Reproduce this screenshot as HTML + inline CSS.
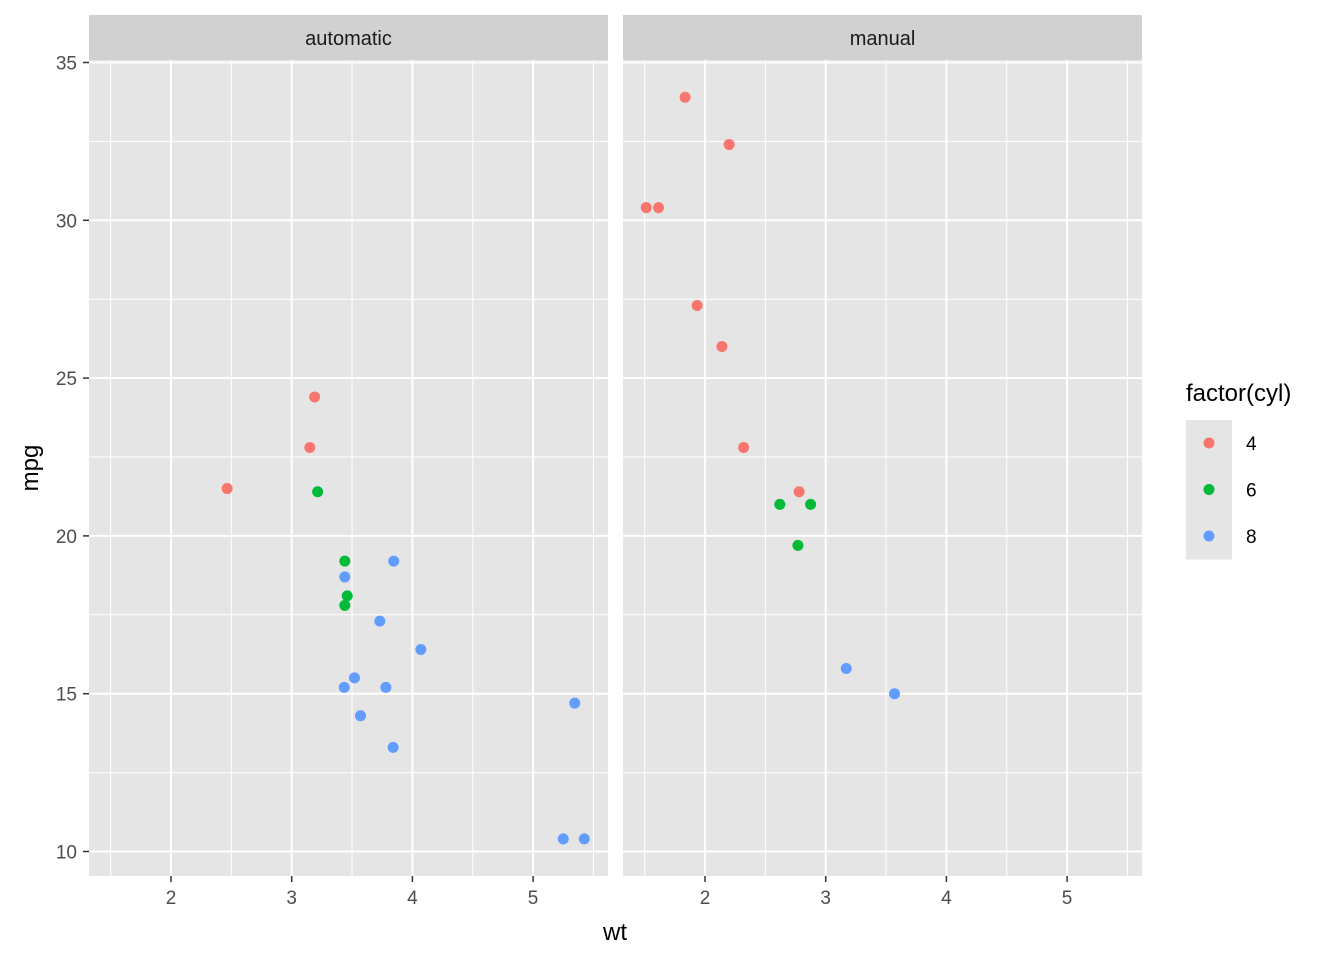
<!DOCTYPE html>
<html><head><meta charset="utf-8"><style>
body{margin:0;background:#fff}
svg{display:block;font-family:"Liberation Sans",Arial,sans-serif}
</style></head><body>
<svg id="c" width="1344" height="960"></svg>
<script>
const panels=["automatic","manual"];
const wt=[2.620,2.875,2.320,3.215,3.440,3.460,3.570,3.190,3.150,3.440,3.440,4.070,3.730,3.780,5.250,5.424,5.345,2.200,1.615,1.835,2.465,3.520,3.435,3.840,3.845,1.935,2.140,1.513,3.170,2.770,3.570,2.780];
const mpg=[21.0,21.0,22.8,21.4,18.7,18.1,14.3,24.4,22.8,19.2,17.8,16.4,17.3,15.2,10.4,10.4,14.7,32.4,30.4,33.9,21.5,15.5,15.2,13.3,19.2,27.3,26.0,30.4,15.8,19.7,15.0,21.4];
const cyl=[6,6,4,6,8,6,8,4,4,6,6,8,8,8,8,8,8,4,4,4,4,8,8,8,8,4,4,4,8,6,8,4];
const am=[1,1,1,0,0,0,0,0,0,0,0,0,0,0,0,0,0,1,1,1,0,0,0,0,0,1,1,1,1,1,1,1];
const xTicks=[2,3,4,5];
const yTicks=[10,15,20,25,30,35];
const cylLevels=[4,6,8];
const colors={4:"#F8766D",6:"#00BA38",8:"#619CFF"};
const ns="http://www.w3.org/2000/svg";
const svg=document.getElementById("c");
function mk(t,a,p){const e=document.createElementNS(ns,t);for(const k in a)e.setAttribute(k,a[k]);(p||svg).appendChild(e);return e;}
const px0=[89,623],pw=519,pt=60,pb=876;
const xs=(p,v)=>px0[p]+82+(v-2)*120.7;
const ys=v=>851.5-(v-10)*31.56;
panels.forEach((name,p)=>{
  const g=mk("g",{});
  
  
  mk("rect",{x:px0[p],y:pt,width:pw,height:pb-pt,fill:"#E5E5E5"},g);
  const s=mk("rect",{x:px0[p],y:15,width:pw,height:45,fill:"#D1D1D1"},g);
  
  
  const st=mk("text",{x:px0[p]+pw/2,y:45,"text-anchor":"middle","font-size":"20",fill:"#1A1A1A"},g);
  st.textContent=name;
  
  
  for(let v=1.5;v<=5.5;v+=1)mk("line",{x1:xs(p,v),x2:xs(p,v),y1:pt,y2:pb,stroke:"#fff","stroke-width":1},g);
  for(let v=12.5;v<=32.5;v+=5)mk("line",{x1:px0[p],x2:px0[p]+pw,y1:ys(v),y2:ys(v),stroke:"#fff","stroke-width":1},g);
  xTicks.forEach(v=>{
    mk("line",{x1:xs(p,v),x2:xs(p,v),y1:pt,y2:pb,stroke:"#fff","stroke-width":2},g);
    mk("line",{x1:xs(p,v),x2:xs(p,v),y1:pb,y2:pb+6,stroke:"#333","stroke-width":1.5},g);
    const t=mk("text",{x:xs(p,v),y:pb+28,"text-anchor":"middle","font-size":"19",fill:"#4D4D4D"},g);
    t.textContent=v;
    
    
  });
  yTicks.forEach(v=>mk("line",{x1:px0[p],x2:px0[p]+pw,y1:ys(v),y2:ys(v),stroke:"#fff","stroke-width":2},g));
  wt.forEach((w,i)=>{
    if(am[i]!==p)return;
    const c=mk("circle",{cx:xs(p,w),cy:ys(mpg[i]),r:5.5,fill:colors[cyl[i]]},g);
    
    
  });
});
yTicks.forEach(v=>{
  mk("line",{x1:83,x2:89,y1:ys(v),y2:ys(v),stroke:"#333","stroke-width":1.5});
  const t=mk("text",{x:77,y:ys(v)+7,"text-anchor":"end","font-size":"19",fill:"#4D4D4D"});
  t.textContent=v;
  
  
});
const xt=mk("text",{x:615,y:940,"text-anchor":"middle","font-size":"24",fill:"#000"});
xt.textContent="wt";


const yt=mk("text",{x:38,y:468,"text-anchor":"middle","font-size":"24",fill:"#000",transform:"rotate(-90 38 468)"});
yt.textContent="mpg";


const lg=mk("g",{});


const lt=mk("text",{x:1186,y:401,"font-size":"24",fill:"#000"},lg);
lt.textContent="factor(cyl)";


cylLevels.forEach((c,i)=>{
  const y=420+i*46.5;
  const e=mk("g",{},lg);
  
  
  mk("rect",{x:1186,y:y,width:46,height:46.5,fill:"#E5E5E5"},e);
  mk("circle",{cx:1209,cy:y+23,r:5.5,fill:colors[c]},e);
  const t=mk("text",{x:1246,y:y+30,"font-size":"19",fill:"#000"},e);
  t.textContent=c;
});
</script>
</body></html>
